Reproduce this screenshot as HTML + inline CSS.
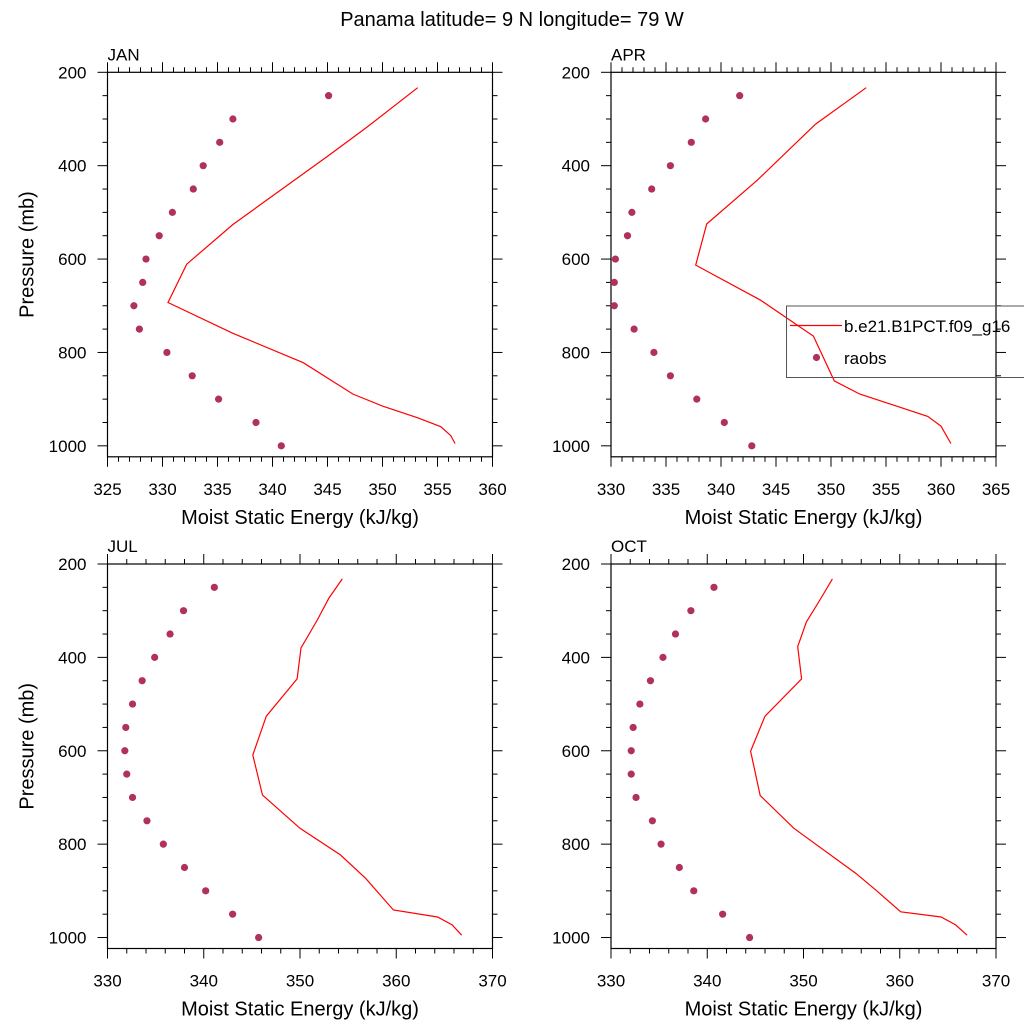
<!DOCTYPE html>
<html><head><meta charset="utf-8"><style>
body{margin:0;background:#fff}
svg{display:block;font-family:"Liberation Sans",Arial,sans-serif}
</style></head><body>
<svg id="chart" width="1024" height="1024" viewBox="0 0 1024 1024">
<text x="512" y="26" text-anchor="middle" font-size="20">Panama  latitude= 9 N longitude= 79 W</text>
</svg>
<script>
// ---- data ----
const obsPressure = [250,300,350,400,450,500,550,600,650,700,750,800,850,900,950,1000];
const janObs = [345.1,336.4,335.2,333.7,332.8,330.9,329.7,328.5,328.2,327.4,327.9,330.4,332.7,335.1,338.5,340.8];
const aprObs = [341.7,338.6,337.3,335.4,333.7,331.9,331.5,330.4,330.3,330.3,332.1,333.9,335.4,337.8,340.3,342.8];
const julObs = [341.1,337.9,336.5,334.9,333.6,332.6,331.9,331.8,332.0,332.6,334.1,335.8,338.0,340.2,343.0,345.7];
const octObs = [340.7,338.3,336.7,335.4,334.1,333.0,332.3,332.1,332.1,332.6,334.3,335.2,337.1,338.6,341.6,344.4];
const janModP = [233,319,379,526,611,693,759,822,889,915,940,959,978,995];
const janMod = [353.2,348.5,345.05,336.4,332.2,330.5,336.4,342.8,347.3,350.0,353.2,355.3,356.2,356.6];
const aprModP = [233,311,431,525,613,688,765,861,889,937,958,995];
const aprMod = [353.2,348.6,343.3,338.7,337.7,343.6,348.4,350.3,352.6,358.8,360.0,360.9];
const julModP = [232,273,320,380,446,526,609,695,766,823,873,941,956,973,995];
const julMod = [354.4,353.0,351.8,350.1,349.7,346.5,345.1,346.1,350.0,354.2,356.8,359.7,364.3,365.8,366.8];
const octModP = [232,277,324,377,446,526,601,696,766,862,898,945,956,973,995];
const octMod = [353.0,351.7,350.3,349.4,349.8,346.0,344.5,345.5,349.0,355.4,357.5,360.1,364.3,365.8,367.0];
const pTicks = [200,400,600,800,1000];
const janX = [325,330,335,340,345,350,355,360];
const aprX = [330,335,340,345,350,355,360,365];
const julX = [330,340,350,360,370];
const octX = [330,340,350,360,370];

const NS='http://www.w3.org/2000/svg';
const svg=document.getElementById('chart');
function mk(tag,attrs,parent){const e=document.createElementNS(NS,tag);for(const k in attrs)e.setAttribute(k,attrs[k]);(parent||svg).appendChild(e);return e;}

function panel(key,label,x0,y0,xTicks,xMinorStep,modP,modV,obsV,showYTitle){
  const W=385,H=384.5, pMin=200,pMax=1023.5;
  const xMin=xTicks[0],xMax=xTicks[xTicks.length-1];
  const sx=v=>x0+(v-xMin)/(xMax-xMin)*W;
  const sy=p=>y0+(p-pMin)/(pMax-pMin)*H;
  const g=mk('g',{});
  
  
  const t=mk('text',{x:x0,y:y0-12,'font-size':17},g);t.textContent=label;
  
  
  const fr=mk('rect',{x:x0,y:y0,width:W,height:H,fill:'none',stroke:'#000','stroke-width':1.2},g);
  
  
  for(let p=200;p<=1000;p+=50){
    const major=pTicks.includes(p);const L=major?10:5;const y=sy(p);
    mk('line',{x1:x0-L,x2:x0,y1:y,y2:y,stroke:'#000','stroke-width':1},g);
    mk('line',{x1:x0+W,x2:x0+W+L,y1:y,y2:y,stroke:'#000','stroke-width':1},g);
  }
  pTicks.forEach(p=>{const tt=mk('text',{x:x0-21,y:sy(p)+6,'text-anchor':'end','font-size':17},g);tt.textContent=p;
    
    });
  for(let v=xMin;v<=xMax+1e-9;v+=xMinorStep){
    const major=xTicks.some(m=>Math.abs(m-v)<1e-6);const L=major?10:5;const x=sx(v);
    mk('line',{x1:x,x2:x,y1:y0+H,y2:y0+H+L,stroke:'#000','stroke-width':1},g);
    mk('line',{x1:x,x2:x,y1:y0-L,y2:y0,stroke:'#000','stroke-width':1},g);
  }
  xTicks.forEach(v=>{const tt=mk('text',{x:sx(v),y:y0+H+38,'text-anchor':'middle','font-size':17},g);tt.textContent=v;
    
    });
  const xt=mk('text',{x:x0+W/2,y:y0+H+67,'text-anchor':'middle','font-size':20},g);xt.textContent='Moist Static Energy (kJ/kg)';
  
  
  if(showYTitle){const yt=mk('text',{x:0,y:0,'text-anchor':'middle','font-size':20,transform:`translate(${x0-74},${y0+H/2-10}) rotate(-90)`},g);yt.textContent='Pressure (mb)';
    
    }
  const pts=modP.map((p,i)=>sx(modV[i]).toFixed(1)+','+sy(p).toFixed(1)).join(' ');
  const pl=mk('polyline',{points:pts,fill:'none',stroke:'#ff0000','stroke-width':1.2},g);
  
  
  obsPressure.forEach((p,i)=>{const c=mk('circle',{cx:sx(obsV[i]),cy:sy(p),r:3.6,fill:'#b03060'},g);
    
    });
}
panel('jan','JAN',107.5,72.3,janX,1,janModP,janMod,janObs,true);
panel('apr','APR',611,72.3,aprX,1,aprModP,aprMod,aprObs,false);
panel('jul','JUL',107.5,564,julX,2,julModP,julMod,julObs,true);
panel('oct','OCT',611,564,octX,2,octModP,octMod,octObs,false);
const lg=mk('g',{});


mk('rect',{x:786.5,y:306,width:260,height:71.5,fill:'none',stroke:'#555','stroke-width':1},lg);
mk('line',{x1:790,x2:842,y1:325.5,y2:325.5,stroke:'#ff0000','stroke-width':1.2},lg);
const l1=mk('text',{x:844,y:332,'font-size':17},lg);l1.textContent='b.e21.B1PCT.f09_g16';


mk('circle',{cx:816.5,cy:357.5,r:3.6,fill:'#b03060'},lg);
const l2=mk('text',{x:844,y:364,'font-size':17},lg);l2.textContent='raobs';


</script>
</body></html>
